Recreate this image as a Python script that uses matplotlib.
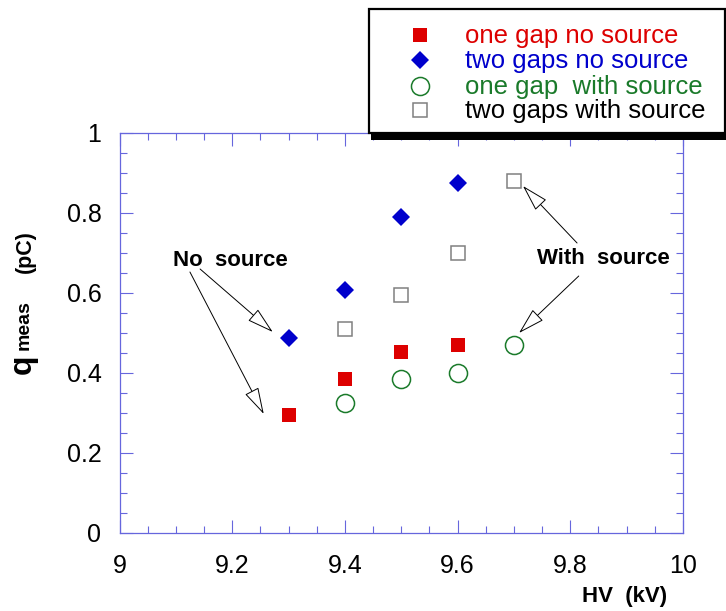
import matplotlib
matplotlib.use('Agg')
import matplotlib.pyplot as plt
from matplotlib.lines import Line2D
from matplotlib.patches import Rectangle
from matplotlib.ticker import MultipleLocator

plt.rcParams['font.family'] = ['Liberation Sans', 'DejaVu Sans']

# ---- data ----
hv_one_nosrc = [9.3, 9.4, 9.5, 9.6]
q_one_nosrc = [0.295, 0.385, 0.452, 0.470]
hv_two_nosrc = [9.3, 9.4, 9.5, 9.6]
q_two_nosrc = [0.487, 0.607, 0.791, 0.875]
hv_one_src = [9.4, 9.5, 9.6, 9.7]
q_one_src = [0.326, 0.384, 0.400, 0.469]
hv_two_src = [9.4, 9.5, 9.6, 9.7]
q_two_src = [0.511, 0.596, 0.700, 0.881]

series_labels = ["one gap no source", "two gaps no source",
                 "one gap  with source", "two gaps with source"]
x_ticks = [9, 9.2, 9.4, 9.6, 9.8, 10]
x_tick_labels = ["9", "9.2", "9.4", "9.6", "9.8", "10"]
y_ticks = [0, 0.2, 0.4, 0.6, 0.8, 1]
y_tick_labels = ["0", "0.2", "0.4", "0.6", "0.8", "1"]

RED = '#dd0000'
BLUE = '#0000cc'
GREEN = '#1a7a2a'
GRAY = '#808080'
AXC = '#6666dd'

W, H = 726, 611
fig = plt.figure(figsize=(W / 100, H / 100), dpi=100)


def fx(px):
    return px / W


def fy(py):
    return 1 - py / H


L, R, T, B = 119.5, 683, 133, 533
ax = fig.add_axes([fx(L), fy(B), (R - L) / W, (B - T) / H])
ax.set_xlim(9, 10)
ax.set_ylim(0, 1)

styles = [
    dict(marker='s', ms=10, mfc=RED, mec=RED, mew=0),
    dict(marker='D', ms=9, mfc=BLUE, mec=BLUE, mew=0),
    dict(marker='o', ms=13, mfc='none', mec=GREEN, mew=1.1),
    dict(marker='s', ms=10, mfc='none', mec=GRAY, mew=1.1),
]
data = [(hv_one_nosrc, q_one_nosrc), (hv_two_nosrc, q_two_nosrc),
        (hv_one_src, q_one_src), (hv_two_src, q_two_src)]
for (xs, ys), st in zip(data, styles):
    ax.plot(xs, ys, ls='none', **st)

for s in ax.spines.values():
    s.set_color(AXC)
    s.set_linewidth(0.9)
ax.set_xticks(x_ticks)
ax.set_xticklabels(x_tick_labels)
ax.set_yticks(y_ticks)
ax.set_yticklabels(y_tick_labels)
ax.xaxis.set_minor_locator(MultipleLocator(0.05))
ax.yaxis.set_minor_locator(MultipleLocator(0.05))
ax.tick_params(which='both', direction='in', top=True, right=True,
               color=AXC, width=0.8, labelsize=18)
ax.tick_params(which='major', length=9.5)
ax.tick_params(which='minor', length=5)
ax.tick_params(axis='x', pad=15)
ax.tick_params(axis='y', pad=13)

# annotations
ax.text(9.095, 0.6675, "No  source", fontsize=16, fontweight='bold',
        ha='left', va='baseline')
ax.text(9.741, 0.6725, "With  source", fontsize=16, fontweight='bold',
        ha='left', va='baseline')
aprops = dict(arrowstyle='-|>,head_length=0.85,head_width=0.24',
              fc='white', ec='black', lw=0.7, mutation_scale=20,
              shrinkA=0, shrinkB=0)
for start, tip in [((9.125, 0.6525), (9.256, 0.2975)),
                   ((9.143, 0.660), (9.272, 0.5025)),
                   ((9.812, 0.725), (9.716, 0.8675)),
                   ((9.815, 0.6425), (9.709, 0.500))]:
    ax.annotate('', xy=tip, xytext=start, arrowprops=aprops)

# axis labels
fig.text(fx(667), fy(602), "HV  (kV)", fontsize=16, fontweight='bold',
         ha='right', va='baseline')
fig.text(fx(31), fy(374), "q", fontsize=23, fontweight='bold', rotation=90,
         rotation_mode='anchor', ha='left', va='baseline')
fig.text(fx(29), fy(350), "meas", fontsize=14, fontweight='bold', rotation=90,
         rotation_mode='anchor', ha='left', va='baseline')
fig.text(fx(31), fy(273), "(pC)", fontsize=15.5, fontweight='bold', rotation=90,
         rotation_mode='anchor', ha='left', va='baseline')

# legend box
lx0, ly0, lx1, ly1 = 369, 9, 725, 133
fig.patches.append(Rectangle((fx(lx0 + 2), fy(ly1 + 7)), (lx1 - lx0) / W,
                             (ly1 - ly0) / H, transform=fig.transFigure,
                             facecolor='black', edgecolor='none', zorder=5))
fig.patches.append(Rectangle((fx(lx0), fy(ly1)), (lx1 - lx0) / W,
                             (ly1 - ly0) / H, transform=fig.transFigure,
                             facecolor='white', edgecolor='black', lw=1.6,
                             zorder=6))
rows = [35, 60, 86, 110]
tcolors = [RED, BLUE, GREEN, 'black']
for r, st, lab, tc in zip(rows, styles, series_labels, tcolors):
    fig.add_artist(Line2D([fx(420)], [fy(r)], transform=fig.transFigure,
                          ls='none', zorder=7, **st))
    fig.text(fx(465), fy(r + 8), lab, color=tc, fontsize=18.5,
             ha='left', va='baseline', zorder=7)

fig.savefig('out.png', dpi=100)
